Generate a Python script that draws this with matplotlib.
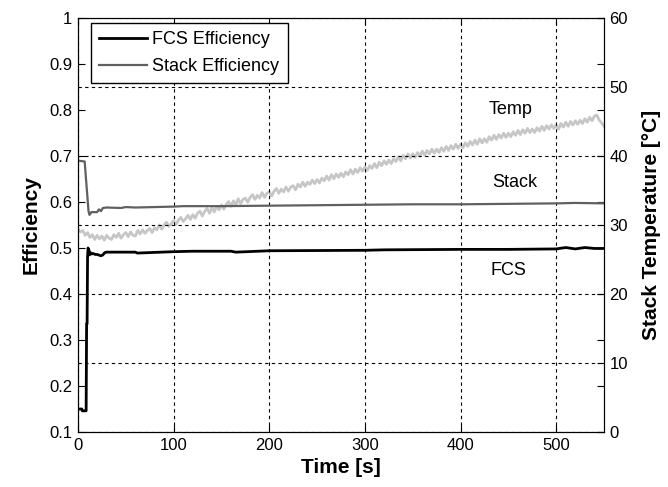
# FCS / stack efficiency and stack temperature vs time
import matplotlib
matplotlib.use('Agg')
import matplotlib.pyplot as plt

plt.rcParams['font.family'] = ['Liberation Sans', 'DejaVu Sans']

# --- Data ---
fcs_t = [0, 4, 4.5, 8.5, 9, 9.5, 10, 10.5, 11.5, 12, 13, 14, 16, 18, 20, 24, 26, 28,
         30, 60, 62, 100, 120, 160, 165, 200, 300, 320, 400, 450, 500, 510, 520, 530, 540, 550]
fcs_eff = [0.150, 0.150, 0.146, 0.146, 0.335, 0.335, 0.480, 0.500, 0.495, 0.485, 0.490,
           0.487, 0.488, 0.486, 0.486, 0.483, 0.485, 0.490, 0.491, 0.491, 0.489, 0.492,
           0.493, 0.493, 0.491, 0.494, 0.495, 0.496, 0.497, 0.497, 0.498, 0.501, 0.498,
           0.501, 0.499, 0.499]

stack_t = [0, 7, 8, 9.5, 11, 12, 14, 20, 22, 24, 26, 30, 45, 50, 60, 80, 100, 110,
           150, 200, 250, 300, 350, 400, 450, 500, 520, 550]
stack_eff = [0.690, 0.688, 0.660, 0.620, 0.580, 0.572, 0.578, 0.578, 0.584, 0.580, 0.587,
             0.588, 0.587, 0.589, 0.588, 0.589, 0.590, 0.591, 0.591, 0.592, 0.593, 0.594,
             0.595, 0.595, 0.596, 0.597, 0.598, 0.597]

# temperature sampled every 2.5 s
temp_t = [i * 2.5 for i in range(221)]
temp_c = [29.4, 29.0, 29.2, 28.5, 28.9, 28.2, 28.6, 27.9, 28.5, 28.0,
          28.4, 27.8, 28.5, 28.1, 27.9, 28.6, 28.2, 28.8, 28.1, 28.6,
          28.9, 28.3, 29.0, 28.5, 28.4, 29.2, 28.7, 29.3, 28.8, 29.2,
          29.5, 28.9, 29.6, 29.3, 30.0, 29.4, 30.0, 30.4, 29.8, 30.2,
          30.6, 30.1, 30.7, 31.1, 30.5, 30.9, 31.4, 30.8, 31.5, 31.0,
          31.7, 32.0, 31.3, 32.0, 32.4, 31.7, 32.5, 31.9, 32.7, 32.2,
          32.9, 32.3, 33.0, 33.4, 32.7, 33.5, 32.9, 33.8, 33.1, 33.7,
          33.9, 33.3, 34.0, 34.4, 33.7, 34.3, 33.9, 34.7, 34.0, 34.6,
          34.8, 34.2, 34.9, 35.3, 34.6, 35.2, 34.8, 35.5, 34.9, 35.5,
          35.7, 35.1, 35.9, 35.5, 36.2, 35.6, 36.2, 35.9, 36.5, 36.0,
          36.6, 36.1, 36.8, 36.4, 37.1, 36.5, 37.3, 36.7, 37.4, 36.9,
          37.5, 37.0, 37.7, 37.3, 38.0, 37.4, 38.1, 37.6, 38.3, 37.8,
          38.4, 37.9, 38.6, 38.2, 38.9, 38.3, 39.1, 38.6, 39.3, 38.8,
          39.4, 38.9, 39.6, 39.2, 39.9, 39.3, 40.1, 39.6, 40.3, 39.7,
          40.3, 39.8, 40.5, 40.0, 40.7, 40.1, 40.8, 40.3, 41.0, 40.4,
          41.0, 40.5, 41.2, 40.7, 41.4, 40.8, 41.5, 41.0, 41.7, 41.1,
          41.7, 41.2, 41.9, 41.4, 42.1, 41.6, 42.3, 41.7, 42.5, 41.9,
          42.5, 42.0, 42.8, 42.3, 43.0, 42.4, 43.1, 42.6, 43.3, 42.7,
          43.3, 42.8, 43.5, 43.0, 43.7, 43.1, 43.8, 43.3, 44.0, 43.4,
          43.9, 43.4, 44.1, 43.6, 44.3, 43.7, 44.4, 43.9, 44.5, 44.0,
          44.5, 43.9, 44.7, 44.2, 44.9, 44.3, 45.0, 44.5, 45.1, 44.6,
          45.2, 44.7, 45.4, 44.9, 45.6, 45.1, 45.8, 45.9, 45.2, 44.8,
          44.3]

x_ticks = [0, 100, 200, 300, 400, 500]
eff_ticks = [0.1, 0.2, 0.3, 0.4, 0.5, 0.6, 0.7, 0.8, 0.9, 1]
eff_labels = ['0.1', '0.2', '0.3', '0.4', '0.5', '0.6', '0.7', '0.8', '0.9', '1']
temp_ticks = [0, 10, 20, 30, 40, 50, 60]

# --- Plot ---
fig = plt.figure(figsize=(6.68, 4.87), dpi=100)
ax1 = fig.add_axes([78 / 668, 55 / 487, 526 / 668, 414 / 487])
ax2 = ax1.twinx()

grid_kw = dict(color='black', linestyle=(0, (3, 3)), linewidth=0.8)

ax2.plot(temp_t, temp_c, color='#c6c6c6', linewidth=2.0, zorder=1)
ax2.set_ylim(0, 60)
ax2.set_yticks(temp_ticks)
ax2.grid(True, axis='y', **grid_kw)
ax2.set_ylabel('Stack Temperature [°C]', fontsize=15, fontweight='bold', labelpad=10)
ax2.tick_params(axis='y', direction='in', labelsize=12, length=5, pad=4)

ax1.set_zorder(ax2.get_zorder() + 1)
ax1.patch.set_visible(False)
ax1.plot(fcs_t, fcs_eff, color='black', linewidth=2, label='FCS Efficiency')
ax1.plot(stack_t, stack_eff, color='#606060', linewidth=1.6, label='Stack Efficiency')
ax1.set_xlim(0, 550)
ax1.set_ylim(0.1, 1)
ax1.set_xticks(x_ticks)
ax1.set_yticks(eff_ticks)
ax1.set_yticklabels(eff_labels)
ax1.grid(True, axis='x', **grid_kw)
ax1.tick_params(axis='both', direction='in', labelsize=12, length=5, top=True, pad=4)
ax1.tick_params(axis='y', right=True)
ax1.set_xlabel('Time [s]', fontsize=15, fontweight='bold', labelpad=4)
ax1.set_ylabel('Efficiency', fontsize=15, fontweight='bold', labelpad=6)

ax1.text(452, 0.80, 'Temp', fontsize=13, ha='center', va='center')
ax1.text(457, 0.643, 'Stack', fontsize=13, ha='center', va='center')
ax1.text(450, 0.452, 'FCS', fontsize=13, ha='center', va='center')

leg = ax1.legend(loc='upper left', bbox_to_anchor=(13 / 526, 409 / 414), fontsize=13,
                 handlelength=2.65, handletextpad=0.3, labelspacing=0.55, borderpad=0.45,
                 borderaxespad=0, fancybox=False, framealpha=1, edgecolor='black')
leg.get_frame().set_linewidth(1)

fig.savefig('out.png', dpi=100)
